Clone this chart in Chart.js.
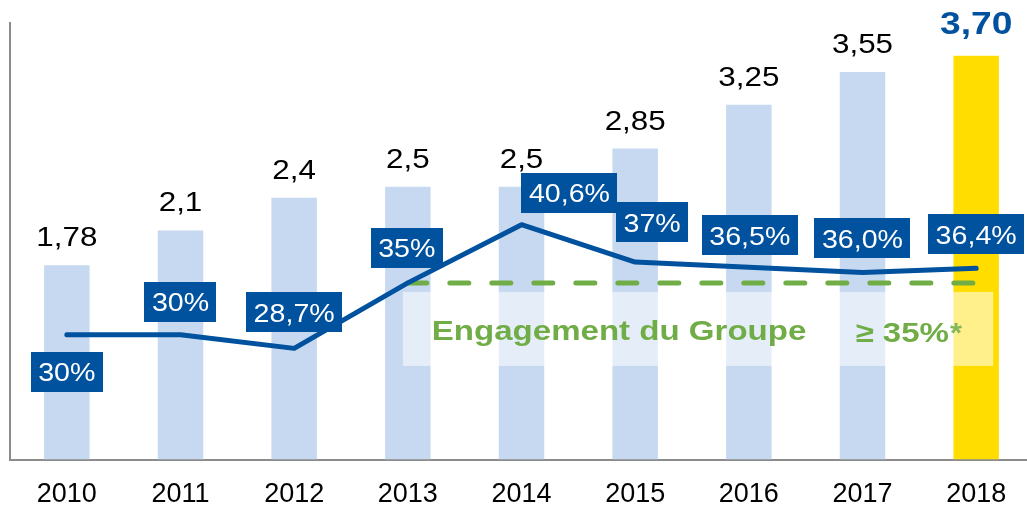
<!DOCTYPE html>
<html>
<head>
<meta charset="utf-8">
<script src="https://cdn.jsdelivr.net/npm/chart.js@4.4.1/dist/chart.umd.min.js"></script>
<style>
  html, body { margin: 0; padding: 0; background: #ffffff; overflow: hidden; }
  #wrap { width: 1033px; height: 507px; }
</style>
</head>
<body>
<div id="wrap"><canvas id="c" width="1033" height="507"></canvas></div>
<script>
// ---- data ----
const years = ['2010', '2011', '2012', '2013', '2014', '2015', '2016', '2017', '2018'];
const dividend = [1.78, 2.1, 2.4, 2.5, 2.5, 2.85, 3.25, 3.55, 3.70];
const dividendLabels = ['1,78', '2,1', '2,4', '2,5', '2,5', '2,85', '3,25', '3,55', '3,70'];
const payoutRatio = [30, 30, 28.7, 35, 40.6, 37, 36.5, 36.0, 36.4];
const payoutLabels = ['30%', '30%', '28,7%', '35%', '40,6%', '37%', '36,5%', '36,0%', '36,4%'];
const commitment = [null, null, null, 35, 35, 35, 35, 35, 35];
const commitmentText = 'Engagement du Groupe';
const commitmentValue = '≥ 35%';

// ---- styles (not data) ----
const BLUE = '#00519e';
const LIGHT = '#c6d9f0';
const YELLOW = '#ffdd00';
const GREEN = '#70ad47';
const FONT = '"Liberation Sans", Arial, sans-serif';
const labelOffsets = [[0, 37], [0, -33], [0, -36], [-1, -35], [48, -32], [17, -40], [1, -32], [0, -34], [0, -34]];

function stretchedText(ctx, text, x, y, sx, align) {
  ctx.save();
  const w = ctx.measureText(text).width * sx;
  let x0 = x;
  if (align === 'center') x0 = x - w / 2;
  else if (align === 'right') x0 = x - w;
  ctx.translate(x0, y);
  ctx.scale(sx, 1);
  ctx.textAlign = 'left';
  ctx.fillText(text, 0, 0);
  ctx.restore();
  return w;
}

const overlayPlugin = {
  id: 'overlay',
  afterDatasetDraw(chart, args) {
    if (args.index !== 0) return;
    const ctx = chart.ctx;
    const xs = chart.scales.x, y2 = chart.scales.y2;
    const left = xs.getPixelForValue(3) - 5;
    const right = xs.getPixelForValue(8) + 17;
    const top = y2.getPixelForValue(35) + 9;
    ctx.save();
    ctx.fillStyle = 'rgba(255,255,255,0.55)';
    ctx.fillRect(left, top, right - left, 74);
    ctx.restore();
  },
  afterDatasetsDraw(chart) {
    const ctx = chart.ctx;
    const xs = chart.scales.x, y2 = chart.scales.y2;
    ctx.save();
    const top = y2.getPixelForValue(35) + 9;
    ctx.fillStyle = GREEN;
    ctx.font = 'bold 28px ' + FONT;
    ctx.textBaseline = 'alphabetic';
    stretchedText(ctx, commitmentText, xs.getPixelForValue(3) + 24, top + 48, 1.18, 'left');
    const w = stretchedText(ctx, commitmentValue, xs.getPixelForValue(7) - 7, top + 50, 1.18, 'left');
    ctx.fillStyle = '#82b85c';
    stretchedText(ctx, '*', xs.getPixelForValue(7) - 7 + w + 1, top + 50, 1.1, 'left');

    const barMeta = chart.getDatasetMeta(0);
    barMeta.data.forEach((bar, i) => {
      const last = i === dividend.length - 1;
      ctx.fillStyle = last ? BLUE : '#000000';
      ctx.font = (last ? 'bold 31px ' : '28px ') + FONT;
      stretchedText(ctx, dividendLabels[i], bar.x, bar.y - (last ? 22 : 19), last ? 1.2 : 1.12, 'center');
    });

    const lineMeta = chart.getDatasetMeta(2);
    ctx.font = '26px ' + FONT;
    lineMeta.data.forEach((pt, i) => {
      const [dx, dy] = labelOffsets[i];
      const cx = pt.x + dx, cy = pt.y + dy;
      const tw = ctx.measureText(payoutLabels[i]).width * 1.1;
      const bw = tw + 15, bh = 40;
      ctx.fillStyle = BLUE;
      ctx.fillRect(Math.round(cx - bw / 2), Math.round(cy - bh / 2), Math.round(bw), bh);
      ctx.fillStyle = '#ffffff';
      stretchedText(ctx, payoutLabels[i], cx, cy + 9.5, 1.1, 'center');
    });
    ctx.restore();
  }
};

new Chart(document.getElementById('c'), {
  type: 'bar',
  data: {
    labels: years,
    datasets: [
      {
        type: 'bar',
        data: dividend,
        yAxisID: 'y',
        order: 3,
        backgroundColor: dividend.map((v, i) => i === dividend.length - 1 ? YELLOW : LIGHT),
        borderWidth: 0,
        barPercentage: 0.4,
        categoryPercentage: 1.0
      },
      {
        type: 'line',
        data: commitment,
        yAxisID: 'y2',
        order: 2,
        borderColor: GREEN,
        borderWidth: 5,
        borderDash: [19, 23],
        borderCapStyle: 'round',
        pointRadius: 0,
        fill: false,
        spanGaps: false
      },
      {
        type: 'line',
        data: payoutRatio,
        yAxisID: 'y2',
        order: 1,
        borderColor: BLUE,
        borderWidth: 5,
        borderCapStyle: 'round',
        borderJoinStyle: 'round',
        tension: 0,
        pointRadius: 0,
        fill: false
      }
    ]
  },
  options: {
    responsive: false,
    animation: false,
    events: [],
    layout: { padding: { left: 10, top: 23, right: 0, bottom: -23 } },
    plugins: { legend: { display: false }, tooltip: { enabled: false } },
    scales: {
      x: {
        offset: true,
        grid: { display: false, drawTicks: false },
        border: { display: true, color: '#8c8c8c', width: 2 },
        ticks: { color: '#000000', padding: 19, font: { family: FONT, size: 27 } }
      },
      y: {
        min: 0, max: 4.0,
        grid: { display: false, drawTicks: false },
        border: { display: true, color: '#8c8c8c', width: 2 },
        ticks: { display: false }
      },
      y2: {
        display: false,
        min: 18, max: 60
      }
    }
  },
  plugins: [overlayPlugin]
});
</script>
</body>
</html>
